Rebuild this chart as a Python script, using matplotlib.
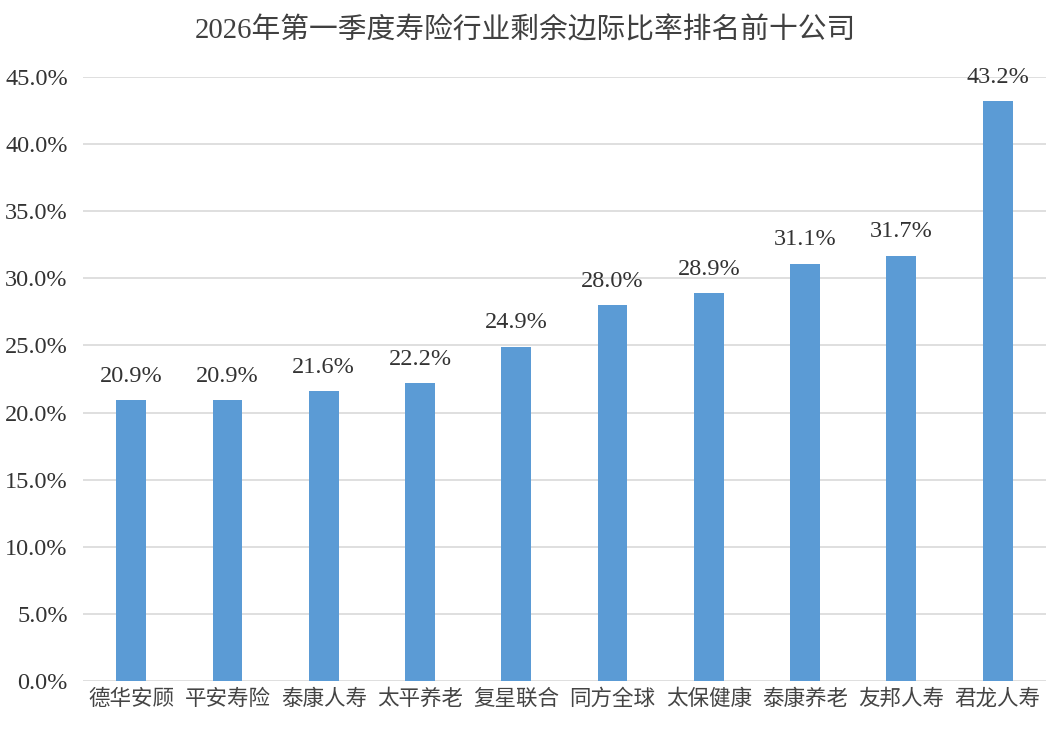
import matplotlib
matplotlib.use('Agg')
import matplotlib.pyplot as plt
from matplotlib.ticker import PercentFormatter

companies = ['德华安顾', '平安寿险', '泰康人寿', '太平养老', '复星联合',
             '同方全球', '太保健康', '泰康养老', '友邦人寿', '君龙人寿']
ratios = [20.9, 20.9, 21.6, 22.2, 24.9, 28.0, 28.9, 31.1, 31.7, 43.2]
title = '2026年第一季度寿险行业剩余边际比率排名前十公司'

serif_cjk = ['Liberation Serif', 'Noto Sans CJK SC']
plt.rcParams['font.family'] = serif_cjk

fig = plt.figure(figsize=(10.51, 7.36), dpi=100)
ax = fig.add_axes([0.079, 0.0747, 0.916, 0.8207])

x = range(len(companies))
bars = ax.bar(x, ratios, width=0.31, color='#5B9BD5', zorder=3)

for b, v in zip(bars, ratios):
    ax.text(b.get_x() + b.get_width() / 2, v + 1.0, f'{v:.1f}%',
            ha='center', va='bottom', fontsize=17.5, color='#333333',
            family=serif_cjk)

ax.set_xlim(-0.5, len(companies) - 0.5)
ax.set_ylim(0, 45)
ax.set_yticks(range(0, 46, 5))
ax.yaxis.set_major_formatter(PercentFormatter(decimals=1))
ax.set_xticks(list(x))
ax.set_xticklabels(companies, fontsize=15.5, color='#444444',
                   family=['Noto Sans CJK SC'])
ax.tick_params(axis='y', labelsize=17.5, labelcolor='#333333', length=0, pad=11)
ax.tick_params(axis='x', length=0, pad=5)
ax.grid(axis='y', color='#d9d9d9', linewidth=1.2, zorder=0)
for s in ax.spines.values():
    s.set_visible(False)

fig.text(0.5, 0.958, title, ha='center', va='center', fontsize=20.7,
         color='#404040', family=serif_cjk)

plt.savefig('out.png', dpi=100)
